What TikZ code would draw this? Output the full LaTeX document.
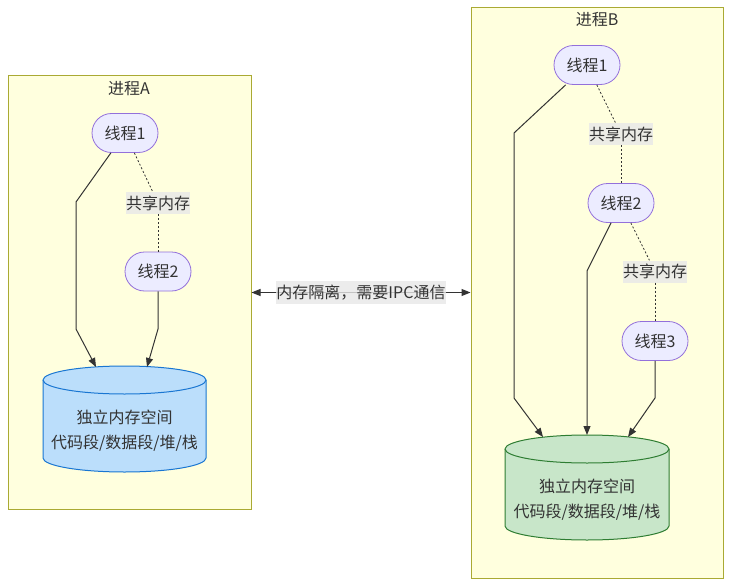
\documentclass[tikz,border=0pt]{standalone}
\usepackage{fontspec}
\setmainfont{Noto Sans CJK SC}
\usetikzlibrary{arrows.meta}
\definecolor{clfill}{HTML}{FFFFDE}
\definecolor{cldraw}{HTML}{AAAA33}
\definecolor{thfill}{HTML}{ECECFF}
\definecolor{thdraw}{HTML}{9370DB}
\definecolor{txt}{HTML}{333333}
\definecolor{lblgray}{HTML}{E8E8E8}
\definecolor{cyanfill}{HTML}{BBDEFB}
\definecolor{cyandraw}{HTML}{1976D2}
\definecolor{grnfill}{HTML}{C8E6C9}
\definecolor{grndraw}{HTML}{2E7D32}
\tikzset{
  cluster/.style={draw=cldraw, fill=clfill, line width=1pt, inner sep=0pt},
  thread/.style={draw=thdraw, fill=thfill, line width=0.8pt, rounded corners=19.5pt,
    minimum width=66pt, minimum height=39pt, inner sep=0pt, text=txt, font=\fontsize{16}{19}\selectfont},
  elabel/.style={fill=lblgray, fill opacity=0.8, text opacity=1, text=txt, inner xsep=0pt,
    inner ysep=0pt, minimum height=22pt, font=\fontsize{16}{19}\selectfont},
  title/.style={text=txt, font=\fontsize{16}{19}\selectfont, inner sep=0pt},
  cyltext/.style={text=txt, align=center, inner sep=0pt, font=\fontsize{16}{25}\selectfont},
  edge/.style={draw=txt, line width=1pt, -{Triangle[length=9pt,width=7pt]}},
  dotedge/.style={draw=txt, line width=0.8pt, dash pattern=on 2pt off 2pt},
  biedge/.style={draw=txt, line width=1pt, {Triangle[length=9pt,width=7pt]}-{Triangle[length=9pt,width=7pt]}}
}
\begin{document}
\begin{tikzpicture}[x=1pt,y=-1pt]
\useasboundingbox (0,0) rectangle (731,586);
\fill[white] (0,0) rectangle (731,586);
% clusters
\node[cluster, minimum width=243pt, minimum height=433pt] (clA) at (129.5,292.5) {};
\node[cluster, minimum width=252pt, minimum height=570pt] (clB) at (597,293) {};
\node[title] (tA) at (129,89) {进程A};
\node[title] (tB) at (597,20) {进程B};
% cylinders
\filldraw[fill=cyanfill, draw=cyandraw, line width=1pt]
  (43,380) -- (43,458) arc[start angle=180, end angle=360, x radius=81.5pt, y radius=14pt]
  -- (206,380) arc[start angle=0, end angle=180, x radius=81.5pt, y radius=14pt] -- cycle;
\draw[cyandraw, line width=1pt] (43,380) arc[start angle=180, end angle=360, x radius=81.5pt, y radius=14pt];
\node[cyltext] (cylA) at (124.5,430.5) {独立内存空间\\代码段/数据段/堆/栈};
\filldraw[fill=grnfill, draw=grndraw, line width=1pt]
  (505,449) -- (505,526) arc[start angle=180, end angle=360, x radius=82pt, y radius=14pt]
  -- (669,449) arc[start angle=0, end angle=180, x radius=82pt, y radius=14pt] -- cycle;
\draw[grndraw, line width=1pt] (505,449) arc[start angle=180, end angle=360, x radius=82pt, y radius=14pt];
\node[cyltext] (cylB) at (587,499.5) {独立内存空间\\代码段/数据段/堆/栈};
% threads
\node[thread] (a1) at (125,133) {线程1};
\node[thread] (a2) at (158,271.5) {线程2};
\node[thread] (b1) at (587,65) {线程1};
\node[thread] (b2) at (621,203) {线程2};
\node[thread] (b3) at (655,341) {线程3};
% shared labels
\node[elabel] (lA) at (158,203) {共享内存};
\node[elabel] (lB1) at (621,134) {共享内存};
\node[elabel] (lB2) at (655,271.5) {共享内存};
% entry coordinates on cylinders
\coordinate (cA1) at (96,367);
\coordinate (cA2) at (147,367);
\coordinate (cB1) at (543,437);
\coordinate (cB2) at (587,435);
\coordinate (cB3) at (628,437);
% edges A
\draw[edge] (a1) -- (76,202) -- (76,329) -- (cA1);
\draw[edge] (a2) -- (158,329) -- (cA2);
\draw[dotedge] (a1) -- (lA);
\draw[dotedge] (lA) -- (a2);
% edges B
\draw[edge] (b1) -- (514,133) -- (514,398) -- (cB1);
\draw[edge] (b2) -- (587,271) -- (cB2);
\draw[edge] (b3) -- (655,398) -- (cB3);
\draw[dotedge] (b1) -- (lB1);
\draw[dotedge] (lB1) -- (b2);
\draw[dotedge] (b2) -- (lB2);
\draw[dotedge] (lB2) -- (b3);
% middle
\draw[biedge] (clA.east) -- (clA.east -| clB.west)
  node[midway, fill=lblgray, fill opacity=0.8, text opacity=1, text=txt, inner xsep=0pt, inner ysep=0pt,
  minimum height=23pt, font=\fontsize{16}{19}\selectfont] (mid) {内存隔离，需要IPC通信};
\end{tikzpicture}
\end{document}
